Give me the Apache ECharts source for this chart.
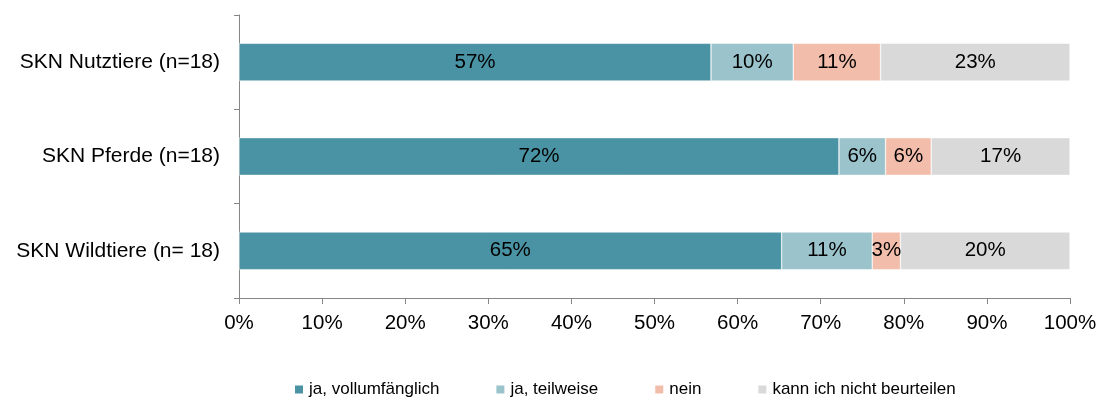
<!DOCTYPE html>
<html>
<head>
<meta charset="utf-8">
<style>
  html, body { margin: 0; padding: 0; background: #fff; }
  #chart { width: 1102px; height: 398px; }
</style>
<script src="https://cdn.jsdelivr.net/npm/echarts@6/dist/echarts.min.js"></script>
</head>
<body>
<div id="chart"></div>
<script>
// Survey groups, top to bottom
const categories = ['SKN Nutztiere (n=18)', 'SKN Pferde (n=18)', 'SKN Wildtiere (n= 18)'];
const seriesNames = ['ja, vollumfänglich', 'ja, teilweise', 'nein', 'kann ich nicht beurteilen'];
const seriesColors = ['#4A93A4', '#9BC3CC', '#F2BEAB', '#D9D9D9'];

// Shares in percent per group (same order as categories)
const vollumfaenglich = [56.8, 72.2, 65.3];
const teilweise = [9.9, 5.6, 10.9];
const nein = [10.5, 5.5, 3.4];
const nichtBeurteilen = [22.8, 16.7, 20.4];

const xTickLabels = ['0%', '10%', '20%', '30%', '40%', '50%', '60%', '70%', '80%', '90%', '100%'];

const values = [vollumfaenglich, teilweise, nein, nichtBeurteilen];
const font = 'Liberation Sans, Arial, sans-serif';

const chart = echarts.init(document.getElementById('chart'));
chart.setOption({
  animation: false,
  textStyle: { fontFamily: font },
  grid: { left: 239, right: 32, top: 15, bottom: 100, containLabel: false },
  legend: {
    top: 381,
    left: 293,
    padding: 0,
    itemWidth: 10,
    itemHeight: 10,
    itemGap: 55,
    icon: 'rect',
    textStyle: { fontFamily: font, fontSize: 17, color: '#000' },
    data: seriesNames
  },
  xAxis: {
    type: 'value',
    min: 0,
    max: 100,
    interval: 10,
    axisLine: { show: true, lineStyle: { color: '#868686', width: 1 } },
    axisTick: { show: true, length: 6, lineStyle: { color: '#868686' } },
    splitLine: { show: false },
    axisLabel: {
      fontFamily: font, fontSize: 20.5, color: '#000', margin: 15,
      formatter: (v) => xTickLabels[Math.round(v / 10)]
    }
  },
  yAxis: {
    type: 'category',
    inverse: true,
    data: categories,
    axisLine: { show: true, lineStyle: { color: '#868686', width: 1 } },
    axisTick: { show: true, length: 5, lineStyle: { color: '#868686' } },
    axisLabel: { fontFamily: font, fontSize: 21, color: '#000', margin: 19 }
  },
  series: seriesNames.map((name, i) => ({
    name: name,
    type: 'bar',
    stack: 'total',
    barWidth: '40%',
    data: values[i],
    itemStyle: { color: seriesColors[i], borderColor: '#fff', borderWidth: 0.5 },
    label: {
      show: true,
      position: 'inside',
      fontFamily: font,
      fontSize: 20.5,
      color: '#000',
      formatter: (p) => Math.round(p.value) + '%'
    }
  }))
});
</script>
</body>
</html>
